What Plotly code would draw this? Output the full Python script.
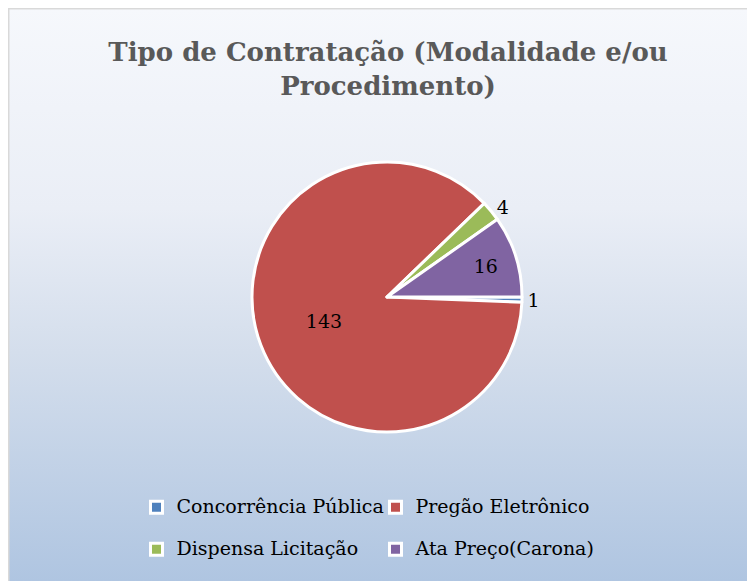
import base64
import plotly.graph_objects as go

categories = ["Concorrência Pública", "Pregão Eletrônico", "Dispensa Licitação", "Ata Preço(Carona)"]
values = [1, 143, 4, 16]
colors = ["#4F81BD", "#C0504D", "#9BBB59", "#8064A2"]
text_positions = ["outside", "inside", "outside", "inside"]
title_text = "Tipo de Contratação (Modalidade e/ou<br>Procedimento)"

# figure sits 8px inside the page (body margin), so work in figure pixels
W, H = 747, 573
ML, MR = 60, 60
GW = W - ML - MR
FONT = "DejaVu Serif, serif"


def px_x(x):
    return (x - ML) / GW


def px_y(y):
    return 1 - y / H


svg = (
    "<svg xmlns='http://www.w3.org/2000/svg' width='100' height='100' preserveAspectRatio='none'>"
    "<defs><linearGradient id='g' x1='0' y1='0' x2='0' y2='1'>"
    "<stop offset='0' stop-color='#F6F8FC'/>"
    "<stop offset='0.35' stop-color='#EAEEF6'/>"
    "<stop offset='0.6' stop-color='#D4DEEC'/>"
    "<stop offset='1' stop-color='#AFC5E1'/>"
    "</linearGradient></defs>"
    "<rect x='0' y='0' width='100' height='100' fill='url(#g)'/></svg>"
)
src = "data:image/svg+xml;base64," + base64.b64encode(svg.encode()).decode()

legend_labels = ["<span style='font-size:19px'>" + c + "</span><br> " for c in categories]

fig = go.Figure(
    go.Pie(
        labels=legend_labels,
        values=values,
        sort=False,
        direction="clockwise",
        rotation=90,
        marker=dict(colors=colors, line=dict(color="white", width=3)),
        textinfo="value",
        textposition=text_positions,
        insidetextorientation="horizontal",
        textfont=dict(family=FONT, size=19, color="black"),
        outsidetextfont=dict(family=FONT, size=19, color="black"),
        insidetextfont=dict(family=FONT, size=19, color="black"),
        domain=dict(x=[px_x(244), px_x(514)], y=[px_y(424), px_y(154)]),
        hoverinfo="value",
    )
)

fig.update_layout(
    width=W,
    height=H,
    margin=dict(l=ML, r=MR, t=0, b=0, autoexpand=False),
    paper_bgcolor="white",
    plot_bgcolor="rgba(0,0,0,0)",
    title=dict(
        text="<b>" + title_text + "</b>",
        x=380 / W,
        xanchor="center",
        y=px_y(53),
        yanchor="middle",
        yref="container",
        xref="container",
        font=dict(family=FONT, size=26, color="#595959"),
    ),
    legend=dict(
        orientation="h",
        x=0.5 - 6 / GW,
        xanchor="center",
        y=px_y(483),
        yanchor="top",
        entrywidth=194,
        valign="top",
        font=dict(family=FONT, size=15, color="black"),
        bgcolor="rgba(0,0,0,0)",
    ),
    images=[
        dict(
            source=src,
            xref="paper",
            yref="paper",
            x=px_x(0),
            y=1,
            sizex=W / GW,
            sizey=1,
            sizing="stretch",
            xanchor="left",
            yanchor="top",
            layer="below",
        )
    ],
    shapes=[
        dict(
            type="rect",
            xref="paper",
            yref="paper",
            x0=px_x(0.5),
            y0=-0.05,
            x1=px_x(W + 20),
            y1=px_y(0.5),
            line=dict(color="#D9D9D9", width=2),
            fillcolor="rgba(0,0,0,0)",
            layer="above",
        )
    ],
)

fig.write_html(
    "out.html",
    post_script="document.documentElement.style.overflow='hidden';document.body.style.overflow='hidden';",
)
